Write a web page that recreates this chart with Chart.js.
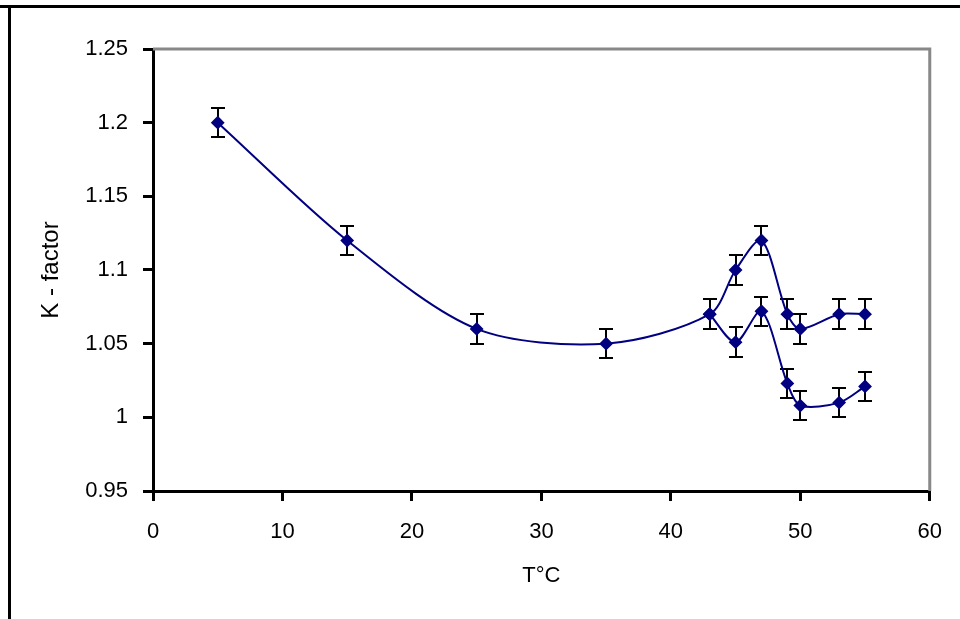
<!DOCTYPE html>
<html>
<head>
<meta charset="utf-8">
<script src="https://cdn.jsdelivr.net/npm/chart.js@4/dist/chart.umd.min.js"></script>
<style>
  html, body { margin: 0; padding: 0; background: #fff; }
  canvas { display: block; }
</style>
</head>
<body>
<canvas id="grafica" width="960" height="619"></canvas>
<script>
// Datos
const temperaturas = [5, 15, 25, 35, 43, 45, 47, 49, 50, 53, 55];
const kSuperior = [1.2, 1.12, 1.06, 1.05, 1.07, 1.1, 1.12, 1.07, 1.06, 1.07, 1.07];
const errSuperior = [0.01, 0.01, 0.01, 0.01, 0.01, 0.01, 0.01, 0.01, 0.01, 0.01, 0.01];

const temperaturasInf = [43, 45, 47, 49, 50, 53, 55];
const kInferior = [1.07, 1.051, 1.072, 1.023, 1.008, 1.01, 1.021];
const errInferior = [0.01, 0.01, 0.01, 0.01, 0.01, 0.01, 0.01];

const ticksX = [0, 10, 20, 30, 40, 50, 60];
const ticksY = [0.95, 1, 1.05, 1.1, 1.15, 1.2, 1.25];

const azul = '#000080';

// Dibuja marco exterior y bordes grises del area
const marco = {
  id: 'marco',
  beforeDraw(chart) {
    const { ctx, width, height } = chart;
    ctx.save();
    ctx.fillStyle = '#fff';
    ctx.fillRect(0, 0, width, height);
    ctx.fillStyle = '#000';
    ctx.fillRect(0, 5, width, 3);
    ctx.fillRect(8, 5, 3, height - 5);
    ctx.restore();
  },
  beforeDatasetsDraw(chart) {
    const { ctx, chartArea: a } = chart;
    ctx.save();
    ctx.strokeStyle = '#888';
    ctx.lineWidth = 3;
    ctx.beginPath();
    ctx.moveTo(a.left, a.top);
    ctx.lineTo(a.right, a.top);
    ctx.lineTo(a.right, a.bottom);
    ctx.stroke();
    ctx.restore();
  }
};

// Barras de error (antes de los puntos para que el marcador quede encima)
const barrasError = {
  id: 'barrasError',
  beforeDatasetsDraw(chart) {
    const { ctx, scales: { x, y } } = chart;
    ctx.save();
    ctx.strokeStyle = '#000';
    ctx.lineWidth = 2;
    chart.data.datasets.forEach(ds => {
      ds.data.forEach((p, i) => {
        const e = ds.errores[i];
        const px = Math.round(x.getPixelForValue(p.x));
        const yArr = Math.round(y.getPixelForValue(p.y + e));
        const yAb = Math.round(y.getPixelForValue(p.y - e));
        ctx.beginPath();
        ctx.moveTo(px, yArr);
        ctx.lineTo(px, yAb);
        ctx.moveTo(px - 7, yArr);
        ctx.lineTo(px + 7, yArr);
        ctx.moveTo(px - 7, yAb);
        ctx.lineTo(px + 7, yAb);
        ctx.stroke();
      });
    });
    ctx.restore();
  }
};

const aPuntos = (xs, ys) => xs.map((v, i) => ({ x: v, y: ys[i] }));

const estiloSerie = {
  borderColor: azul,
  backgroundColor: azul,
  borderWidth: 2,
  pointStyle: 'rectRot',
  pointRadius: 5.5,
  pointBackgroundColor: azul,
  pointBorderColor: azul,
  tension: 0.3,
  fill: false,
};

Chart.defaults.font.family = '"Liberation Sans", Arial, sans-serif';
Chart.defaults.color = '#000';

new Chart(document.getElementById('grafica'), {
  type: 'line',
  data: {
    datasets: [
      { ...estiloSerie, label: 'K superior', data: aPuntos(temperaturas, kSuperior), errores: errSuperior },
      { ...estiloSerie, label: 'K inferior', data: aPuntos(temperaturasInf, kInferior), errores: errInferior },
    ],
  },
  options: {
    responsive: false,
    animation: false,
    layout: { padding: { left: 0, top: 49, right: 30, bottom: 0 } },
    plugins: {
      legend: { display: false },
      tooltip: { enabled: false },
    },
    scales: {
      x: {
        type: 'linear',
        min: 0,
        max: 60,
        afterFit: s => { s.height = 128; },
        afterBuildTicks: s => { s.ticks = ticksX.map(v => ({ value: v })); },
        ticks: { font: { size: 22 }, padding: 18, maxRotation: 0, callback: v => String(v) },
        grid: { display: true, drawOnChartArea: false, drawTicks: true, tickLength: 10, color: '#000', lineWidth: 3 },
        border: { display: true, color: '#000', width: 3 },
        title: { display: true, text: 'T°C', font: { size: 22 }, padding: { top: 0, bottom: 30 } },
      },
      y: {
        min: 0.95,
        max: 1.25,
        afterFit: s => { s.width = 153; },
        afterBuildTicks: s => { s.ticks = ticksY.map(v => ({ value: v })); },
        ticks: { font: { size: 22 }, padding: 15, callback: v => String(v) },
        grid: { display: true, drawOnChartArea: false, drawTicks: true, tickLength: 10, color: '#000', lineWidth: 3 },
        border: { display: true, color: '#000', width: 3 },
        title: { display: true, text: 'K - factor', font: { size: 24 }, padding: { top: 37, bottom: 0 } },
      },
    },
  },
  plugins: [marco, barrasError],
});
</script>
</body>
</html>
